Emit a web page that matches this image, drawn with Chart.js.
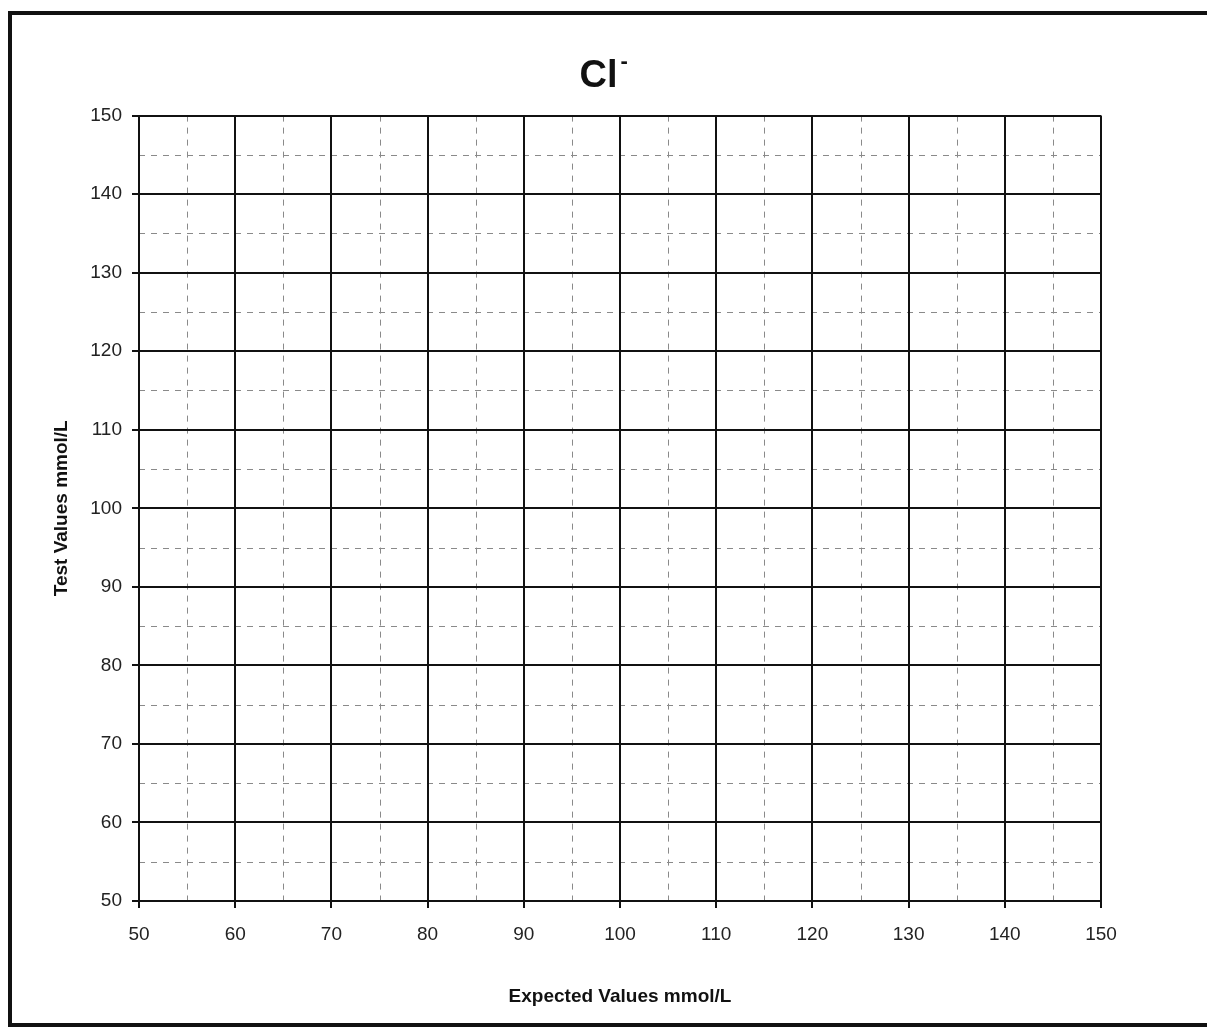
<!DOCTYPE html>
<html>
<head>
<meta charset="utf-8">
<script src="https://cdn.jsdelivr.net/npm/chart.js@4/dist/chart.umd.min.js"></script>
<style>
  html, body { margin: 0; padding: 0; background: #fff; }
  #wrap { position: relative; width: 1207px; height: 1028px; overflow: hidden; }
  #frame { position: absolute; left: 8px; top: 11px; width: 1230px; height: 1008px; border: 4px solid #111; }
  canvas { position: absolute; left: 0; top: 0; }
</style>
</head>
<body>
<div id="wrap">
  <div id="frame"></div>
  <canvas id="chart" width="1207" height="1028"></canvas>
</div>
<script>
// Axis ticks (mmol/L)
const xTicks = [50, 60, 70, 80, 90, 100, 110, 120, 130, 140, 150];
const yTicks = [50, 60, 70, 80, 90, 100, 110, 120, 130, 140, 150];
// Dashed minor grid lines
const xMinor = [55, 65, 75, 85, 95, 105, 115, 125, 135, 145];
const yMinor = [55, 65, 75, 85, 95, 105, 115, 125, 135, 145];
// No plotted points on the blank sheet
const points = [];

const font = "'Liberation Sans', Arial, sans-serif";
const titleFont = { family: font, size: 38, weight: 'bold' };

// Minor dashed grid, drawn under the solid major grid
const minorGrid = {
  id: 'minorGrid',
  beforeDraw(chart) {
    const { ctx, chartArea: a, scales } = chart;
    ctx.save();
    ctx.strokeStyle = '#8a8a8a';
    ctx.lineWidth = 1;
    ctx.setLineDash([6, 6]);
    xMinor.forEach(v => {
      const x = Math.round(scales.x.getPixelForValue(v)) + 0.5;
      ctx.beginPath();
      ctx.moveTo(x, a.top);
      ctx.lineTo(x, a.bottom);
      ctx.stroke();
    });
    yMinor.forEach(v => {
      const y = Math.round(scales.y.getPixelForValue(v)) + 0.5;
      ctx.beginPath();
      ctx.moveTo(a.left, y);
      ctx.lineTo(a.right, y);
      ctx.stroke();
    });
    ctx.restore();
  }
};

// Move the title a bit right and add the superscript minus after "Cl"
const titleCharge = {
  id: 'titleCharge',
  afterLayout(chart) {
    chart.titleBlock.left += 24;
    chart.titleBlock.right += 24;
  },
  afterDraw(chart) {
    const { ctx, titleBlock: t } = chart;
    ctx.save();
    ctx.font = `bold ${titleFont.size}px ${font}`;
    const w = ctx.measureText('Cl').width;
    const cx = (t.left + t.right) / 2;
    const cy = (t.top + t.bottom) / 2;
    ctx.font = `bold 22px ${font}`;
    ctx.fillStyle = '#111';
    ctx.textBaseline = 'middle';
    ctx.fillText('-', cx + w / 2 + 3, cy - 23);
    ctx.restore();
  }
};

new Chart(document.getElementById('chart'), {
  type: 'scatter',
  data: {
    datasets: [{ label: 'Cl-', data: points, pointRadius: 3, backgroundColor: '#000' }]
  },
  options: {
    responsive: false,
    animation: false,
    layout: { padding: { left: 48, right: 106, top: 54, bottom: 16 } },
    plugins: {
      legend: { display: false },
      tooltip: { enabled: false },
      title: {
        display: true,
        text: 'Cl',
        color: '#111',
        font: titleFont,
        padding: { top: 0, bottom: 16 }
      }
    },
    scales: {
      x: {
        type: 'linear',
        min: xTicks[0],
        max: xTicks[xTicks.length - 1],
        afterBuildTicks: s => { s.ticks = xTicks.map(v => ({ value: v })); },
        afterFit: s => { s.height = 111; },
        ticks: { color: '#222', font: { family: font, size: 19 }, padding: 15, maxRotation: 0 },
        grid: { color: '#111', lineWidth: 2, tickLength: 7, tickColor: '#111', tickWidth: 2 },
        border: { color: '#111', width: 2 },
        title: {
          display: true,
          text: 'Expected Values mmol/L',
          color: '#111',
          font: { family: font, size: 19, weight: 'bold' },
          padding: { top: 4, bottom: 4 }
        }
      },
      y: {
        type: 'linear',
        min: yTicks[0],
        max: yTicks[yTicks.length - 1],
        afterBuildTicks: s => { s.ticks = yTicks.map(v => ({ value: v })); },
        afterFit: s => { s.width = 91; },
        ticks: { color: '#222', font: { family: font, size: 19 }, padding: 10 },
        grid: { color: '#111', lineWidth: 2, tickLength: 7, tickColor: '#111', tickWidth: 2 },
        border: { color: '#111', width: 2 },
        title: {
          display: true,
          text: 'Test Values mmol/L',
          color: '#111',
          font: { family: font, size: 19, weight: 'bold' },
          padding: { top: 2, bottom: 4 }
        }
      }
    }
  },
  plugins: [minorGrid, titleCharge]
});
</script>
</body>
</html>
